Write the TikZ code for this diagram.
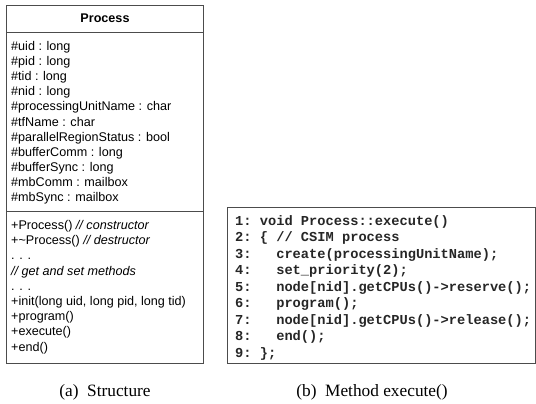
\documentclass[tikz,border=0pt]{standalone}
\usepackage{fontspec}
\setmainfont{Liberation Serif}
\setsansfont{Liberation Sans}
\setmonofont{Liberation Mono}
\usetikzlibrary{positioning}

\begin{document}
\begin{tikzpicture}[x=1pt, y=-1pt,
  frame/.style={draw=black!70, line width=0.9pt},
  member/.style={anchor=base west, inner sep=0pt, font=\sffamily\fontsize{12.6}{15}\selectfont},
  codeline/.style={anchor=base west, inner sep=0pt, text=black!85, font=\ttfamily\bfseries\fontsize{13.7}{16.5}\selectfont},
  caption/.style={anchor=base, inner sep=0pt, font=\fontsize{17.3}{20}\selectfont}]
\useasboundingbox (0,0) rectangle (536,404);
% class Process
\draw[frame] (6,5) rectangle (203,363);
\draw[frame] (6,32) -- (203,32);
\draw[frame] (6,211) -- (203,211);
\node[member, anchor=base, font=\sffamily\bfseries\fontsize{12.6}{15}\selectfont] (cls) at (105,22.5) {Process};
\foreach \a [count=\i] in {\#uid : long, \#pid : long, \#tid : long, \#nid : long, \#processingUnitName : char, \#tfName : char, \#parallelRegionStatus : bool, \#bufferComm : long, \#bufferSync : long, \#mbComm : mailbox, \#mbSync : mailbox}
  \node[member] (attr\i) at (11, {50.5+15.1*(\i-1)}) {\a};
\foreach \m [count=\i] in {+Process() \textit{// constructor}, +\textasciitilde Process() \textit{// destructor}, . . ., \textit{// get and set methods}, . . ., {+init(long uid, long pid, long tid)}, +program(), +execute(), +end()}
  \node[member] (meth\i) at (11, {229.5+15.2*(\i-1)}) {\m};
% method execute()
\draw[frame] (227,207) rectangle (535,363);
\foreach \i/\c in {1/{void Process::execute()}, 2/{\{ // CSIM process}, 3/{\ \ create(processingUnitName);}, 4/{\ \ set\_priority(2);}, 5/{\ \ node[nid].getCPUs()->reserve();}, 6/{\ \ program();}, 7/{\ \ node[nid].getCPUs()->release();}, 8/{\ \ end();}, 9/{\};}}
  \node[codeline] (code\i) at (235, {225+16.5*(\i-1)}) {\i: \c};
% captions
\node[caption] (capa) at (105,396) {(a)\enspace Structure};
\node[caption] (capb) at (372,396) {(b)\enspace Method execute()};
\end{tikzpicture}
\end{document}
